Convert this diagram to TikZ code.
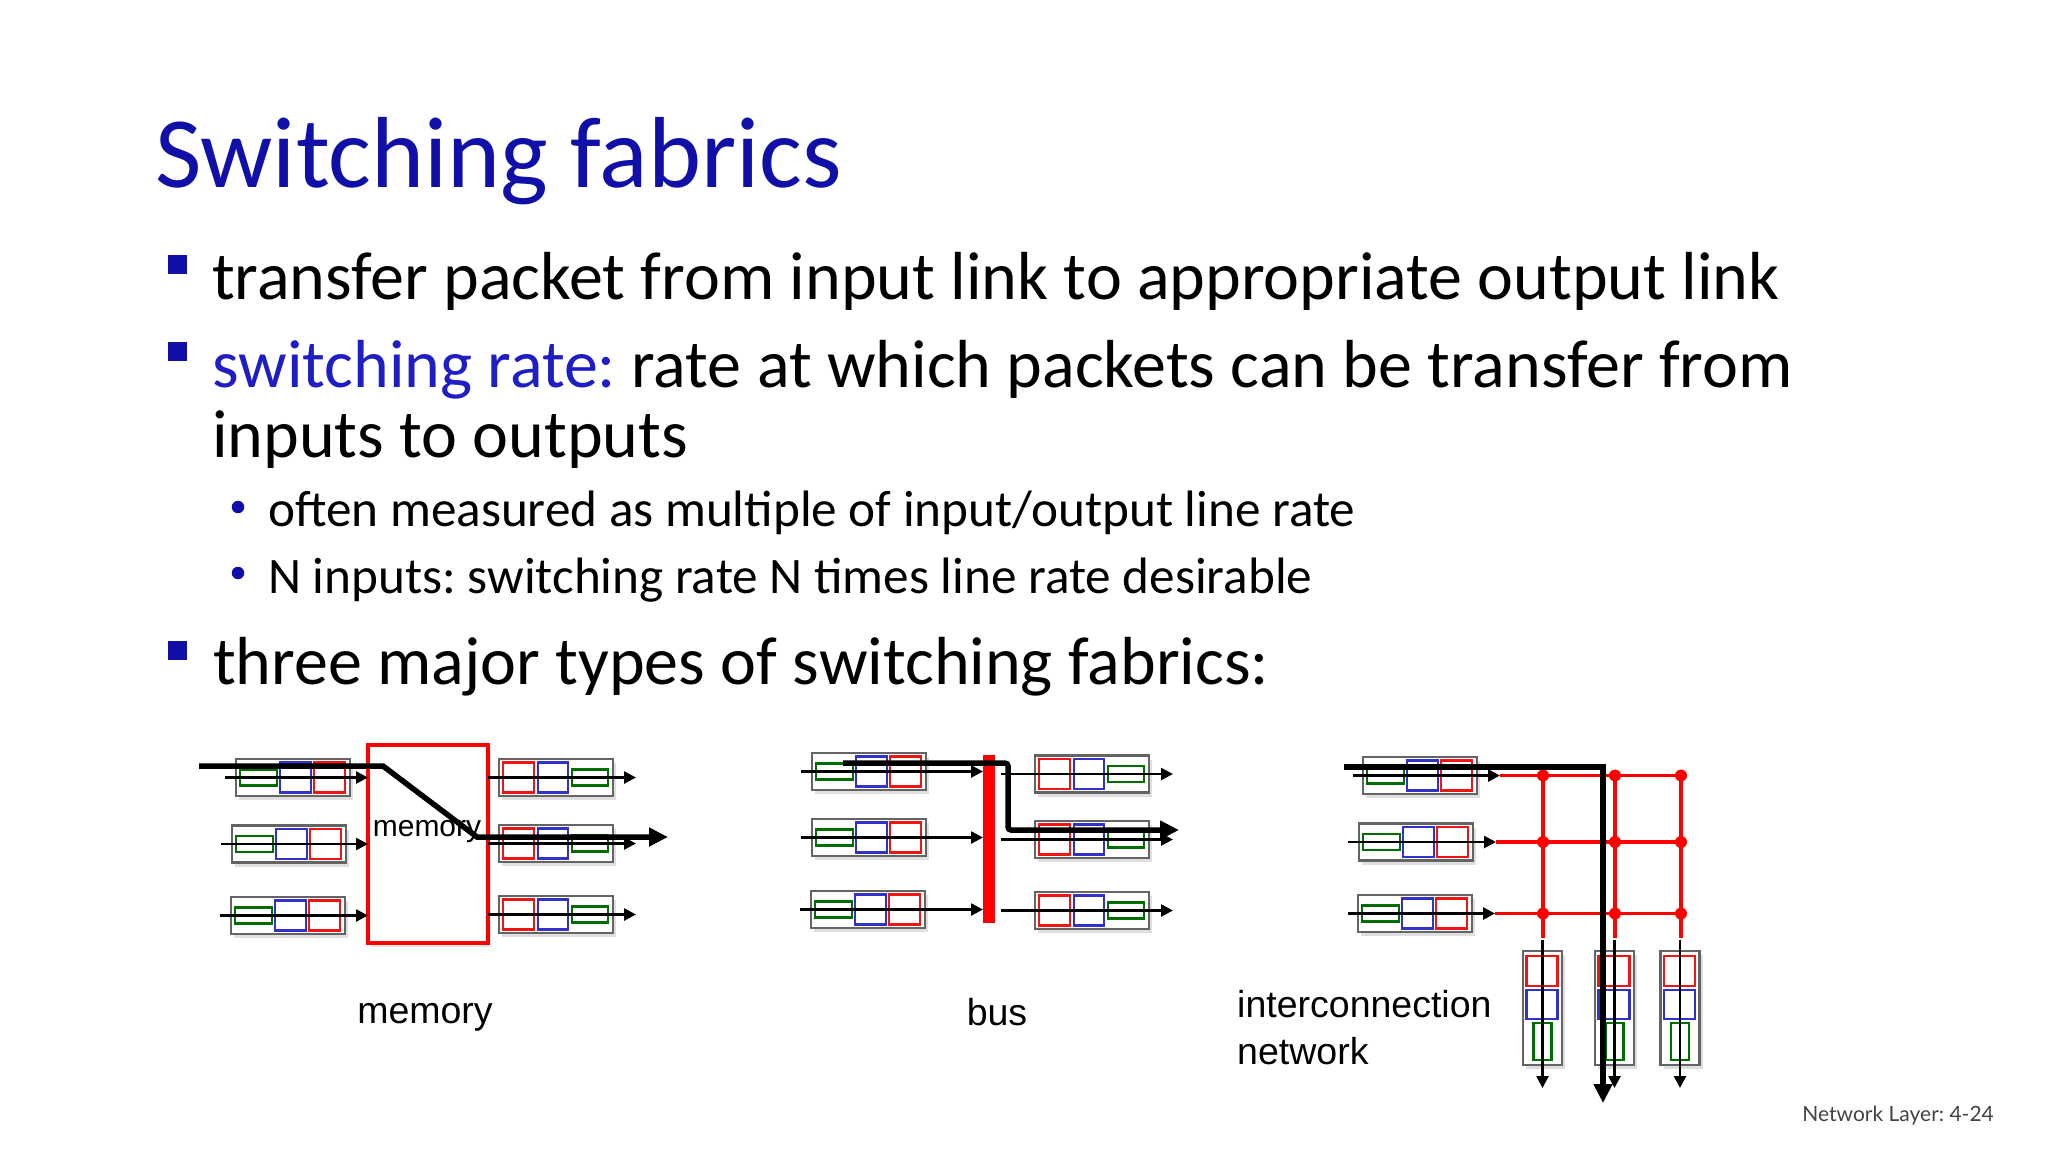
\documentclass[tikz,border=0pt]{standalone}
\usepackage{fontspec}
\setmainfont{Carlito}
\newfontfamily\arialfont{Liberation Sans}
\newfontfamily\latofont{Lato}
\usetikzlibrary{arrows.meta,positioning,calc,shadows}
\frenchspacing

\definecolor{titleblue}{RGB}{16,16,168}
\definecolor{rateblue}{RGB}{30,30,196}
\definecolor{pkred}{RGB}{240,20,20}
\definecolor{pkblue}{RGB}{50,50,200}
\definecolor{pkgreen}{RGB}{0,110,0}
\definecolor{qgray}{RGB}{100,100,100}
\definecolor{footgray}{RGB}{68,68,68}

% queue of three packets, flowing to the right
\newcommand{\inqueue}[3]{%
  \node[qbox, anchor=west] (#1) at (#2,#3) {};
  \draw[pg] ($(#1.west)+(4,-8)$) rectangle ++(37,16);
  \draw[pb] ($(#1.west)+(44,-15)$) rectangle ++(31,30);
  \draw[pr] ($(#1.west)+(78,-15)$) rectangle ++(31,30);
}
\newcommand{\outqueue}[3]{%
  \node[qbox, anchor=west] (#1) at (#2,#3) {};
  \draw[pr] ($(#1.west)+(4,-15)$) rectangle ++(31,30);
  \draw[pb] ($(#1.west)+(39,-15)$) rectangle ++(30,30);
  \draw[pg] ($(#1.west)+(73,-8)$) rectangle ++(36,16);
}
% queue of three packets, flowing down
\newcommand{\downqueue}[3]{%
  \node[vbox, anchor=north] (#1) at (#2,#3) {};
  \draw[pr] ($(#1.north)+(-16,5)$) rectangle ++(31,30);
  \draw[pb] ($(#1.north)+(-16,39)$) rectangle ++(31,29);
  \draw[pg] ($(#1.north)+(-9,72)$) rectangle ++(18,37);
}

\begin{document}
\begin{tikzpicture}[
    x=1pt, y=-1pt,
    body/.style={anchor=base west, inner sep=0pt, font=\fontsize{68}{82}\selectfont},
    subbody/.style={anchor=base west, inner sep=0pt, font=\fontsize{51.2}{61}\selectfont},
    sqbullet/.style={rectangle, fill=titleblue, minimum size=19pt, inner sep=0pt},
    dotbullet/.style={circle, fill=titleblue, minimum size=12.5pt, inner sep=0pt},
    lab/.style={inner sep=0pt, font=\arialfont\fontsize{37.5}{47}\selectfont},
    qbox/.style={rectangle, draw=qgray, line width=2.8pt, fill=white, minimum width=114pt, minimum height=37pt, inner sep=0pt, outer sep=0pt,
      drop shadow={shadow xshift=3pt, shadow yshift=-4pt, opacity=0.25}},
    vbox/.style={qbox, minimum width=39pt, minimum height=114pt},
    pr/.style={draw=pkred, line width=2.5pt},
    pb/.style={draw=pkblue, line width=2.5pt},
    pg/.style={draw=pkgreen, line width=2.5pt},
    membox/.style={rectangle, draw=red, line width=4pt, fill=white, minimum width=120pt, minimum height=198pt, outer sep=0pt,
      drop shadow={shadow xshift=3pt, shadow yshift=-4pt, opacity=0.2}},
    busbar/.style={rectangle, fill=red, minimum width=12pt, minimum height=168pt, inner sep=0pt, outer sep=0pt},
    grid/.style={draw=red, line width=3.5pt},
    xdot/.style={circle, fill=red, minimum size=12pt, inner sep=0pt},
    arr/.style={-{Triangle[length=12pt,width=12pt]}, line width=2.6pt},
    bigarr/.style={-{Triangle[length=19pt,width=18pt]}, line width=5.5pt}
  ]
  \fill[white] (0,0) rectangle (2048,1152);
  \useasboundingbox (0,0) rectangle (2048,1152);

  % title and bullets
  \node[anchor=base west, inner sep=0pt, text=titleblue, font=\fontsize{101}{121}\selectfont] (title) at (155,187) {Switching fabrics};
  \node[sqbullet] (sq1) at (177,264) {};
  \node[body] (b1) at (212,299) {transfer packet from input link to appropriate output link};
  \node[sqbullet] (sq2) at (177,351) {};
  \node[body] (b2) at (212,387) {\textcolor{rateblue}{switching rate:} rate at which packets can be transfer from};
  \node[body] (b2b) at (212,457) {inputs to outputs};
  \node[dotbullet] (d1) at (238,507) {};
  \node[subbody] (s1) at (268,526) {often measured as multiple of input/output line rate};
  \node[dotbullet] (d2) at (238,573) {};
  \node[subbody] (s2) at (268,593) {N inputs: switching rate N times line rate desirable};
  \node[sqbullet] (sq3) at (177,650) {};
  \node[body] (b3) at (213,684) {three major types of switching fabrics:};

  % memory
  \node[membox] (mem) at (428,844) {};
  \node[lab, anchor=base, font=\arialfont\fontsize{30}{36}\selectfont] (memtxt) at (427,836) {memory};
  \inqueue{mi1}{236}{777.5}
  \inqueue{mi2}{232}{844}
  \inqueue{mi3}{231}{915.5}
  \outqueue{mo1}{499}{777.5}
  \outqueue{mo2}{499}{843.5}
  \outqueue{mo3}{499}{914.5}
  \draw[arr] ($(mi1.west)+(-11,0)$) -- (mi1.west -| mem.west);
  \draw[arr] ($(mi2.west)+(-11,0)$) -- (mi2.west -| mem.west);
  \draw[arr] ($(mi3.west)+(-11,0)$) -- (mi3.west -| mem.west);
  \draw[arr] (mo1.west -| mem.east) -- ($(mo1.east)+(23,0)$);
  \draw[arr] (mo2.west -| mem.east) -- ($(mo2.east)+(23,0)$);
  \draw[arr] (mo3.west -| mem.east) -- ($(mo3.east)+(23,0)$);
  \coordinate (mbend) at (383,766);
  \draw[bigarr] (199,766) -- (mbend) -- (477,837) -- (668,837);
  \node[lab, anchor=base] (memlab) at (425,1023) {memory};

  % bus
  \node[busbar] (bus) at (989,839) {};
  \inqueue{bi1}{812}{771.5}
  \inqueue{bi2}{812}{837.5}
  \inqueue{bi3}{811}{909.5}
  \outqueue{bo1}{1035}{774}
  \outqueue{bo2}{1035}{839.5}
  \outqueue{bo3}{1035}{910.5}
  \draw[arr] ($(bi1.west)+(-11,0)$) -- (bi1.west -| bus.west);
  \draw[arr] ($(bi2.west)+(-11,0)$) -- (bi2.west -| bus.west);
  \draw[arr] ($(bi3.west)+(-11,0)$) -- (bi3.west -| bus.west);
  \draw[arr] ($(bo1.west -| bus.east)+(6,0)$) -- ($(bo1.east)+(24,0)$);
  \draw[arr] ($(bo2.west -| bus.east)+(6,0)$) -- ($(bo2.east)+(24,0)$);
  \draw[arr] ($(bo3.west -| bus.east)+(6,0)$) -- ($(bo3.east)+(24,0)$);
  \draw[bigarr, rounded corners=3pt] (843,763) -- (1008,763) -- (1008,830) -- (1179,830);
  \node[lab, anchor=base] (buslab) at (997,1025) {bus};

  % interconnection network
  \inqueue{ci1}{1363}{775.5}
  \inqueue{ci2}{1359}{842}
  \inqueue{ci3}{1358}{913.5}
  \draw[arr] ($(ci1.west)+(-10,0)$) -- ($(ci1.east)+(23,0)$) coordinate (g1);
  \draw[arr] ($(ci2.west)+(-11,0)$) -- ($(ci2.east)+(23,0)$) coordinate (g2);
  \draw[arr] ($(ci3.west)+(-10,0)$) -- ($(ci3.east)+(23,0)$) coordinate (g3);
  \foreach \r in {1,2,3}
    \draw[grid] (g\r) -- (g\r -| 1683,0);
  \foreach \c/\cx in {1/1543,2/1615,3/1681} {
    \draw[grid] (\cx,775.5) -- (\cx,938);
    \foreach \r in {1,2,3}
      \node[xdot] (x\r\c) at (g\r -| \cx,0) {};
  }
  \downqueue{co1}{1542.5}{951}
  \downqueue{co2}{1614.5}{951}
  \downqueue{co3}{1680}{951}
  \draw[arr] ($(co1.north)+(0,-11)$) -- ($(co1.south)+(0,23)$);
  \draw[arr] ($(co2.north)+(0,-11)$) -- ($(co2.south)+(0,23)$);
  \draw[arr] ($(co3.north)+(0,-11)$) -- ($(co3.south)+(0,23)$);
  \draw[bigarr] (1344,767) -- (1603,767) -- (1603,1103);
  \node[lab, anchor=base west, align=left] (netlab) at (1237,1064) {interconnection\\network};

  % footer
  \node[anchor=base east, inner sep=0pt, text=footgray, font=\latofont\fontsize{21}{25}\selectfont] (foot) at (1994,1121) {Network Layer: 4-24};
\end{tikzpicture}
\end{document}
